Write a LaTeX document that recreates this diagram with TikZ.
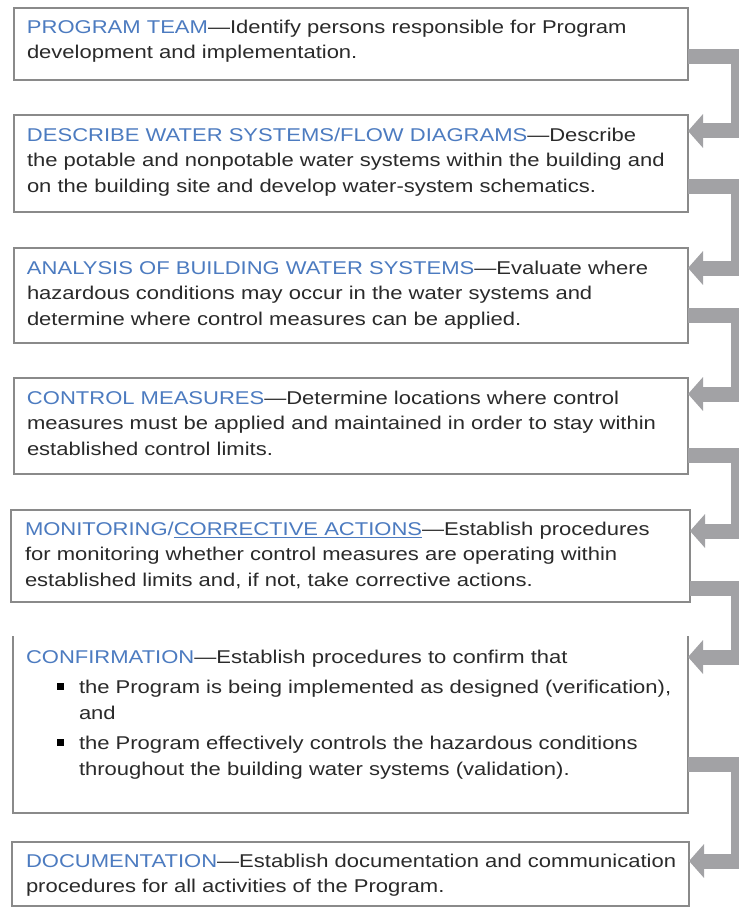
\documentclass[tikz,border=0pt]{standalone}
\usepackage{fontspec}
\setmainfont{Liberation Sans}[FakeStretch=1.19]
\usetikzlibrary{arrows.meta}
\definecolor{headblue}{HTML}{4C7BC0}
\definecolor{bodytext}{HTML}{2A2A2A}
\definecolor{boxline}{HTML}{8A8A8A}
\definecolor{connfill}{HTML}{A2A2A5}
\newcommand\hd[1]{\textcolor{headblue}{#1}}
\newcommand\bsq{\makebox[22pt][l]{\raisebox{4pt}{\textcolor{black}{\rule{6.5pt}{6.5pt}}}}}
\begin{document}
\begin{tikzpicture}[x=1pt,y=-1pt,
  box/.style={draw=boxline,line width=1.4pt,inner sep=0pt,outer sep=0pt,anchor=north west,fill=white},
  openbox/.style={inner sep=0pt,outer sep=0pt,anchor=north west},
  txt/.style={anchor=north west,inner sep=0pt,outer sep=0pt,align=left,text=bodytext,
    font=\fontsize{18.5}{25.5}\selectfont},
  conn/.style={draw=connfill,line width=15pt,line join=miter,line cap=butt,
    -{Triangle[length=15pt,width=33pt]}}
]
\useasboundingbox (0,0) rectangle (738,909);
% boxes
\node[box,minimum width=674pt,minimum height=72pt] (b1) at (14,8) {};
\node[box,minimum width=674pt,minimum height=97pt] (b2) at (14,115) {};
\node[box,minimum width=674pt,minimum height=95pt] (b3) at (14,248) {};
\node[box,minimum width=674pt,minimum height=96pt] (b4) at (14,378) {};
\node[box,minimum width=679pt,minimum height=92pt] (b5) at (11,510) {};
\node[openbox,minimum width=675pt,minimum height=177pt] (b6) at (13,636) {};
\draw[draw=boxline,line width=1.4pt] (b6.north west) -- (b6.south west) -- (b6.south east) -- (b6.north east);
\node[box,minimum width=677pt,minimum height=64pt] (b7) at (12,842) {};
% connectors
\draw[conn] (b1.east |- 0,57) -- (738,57) |- (b2.east |- 0,131);
\draw[conn] (b2.east |- 0,187) -- (738,187) |- (b3.east |- 0,268);
\draw[conn] (b3.east |- 0,315) -- (738,315) |- (b4.east |- 0,394);
\draw[conn] (b4.east |- 0,455) -- (738,455) |- (b5.east |- 0,531);
\draw[conn] (b5.east |- 0,588) -- (738,588) |- (b6.east |- 0,657);
\draw[conn] (b6.east |- 0,764) -- (738,764) |- (b7.east |- 0,861);
% texts
\node[txt] (t1) at (27,15.6) {\strut\hd{PROGRAM TEAM}—Identify persons responsible for Program\\development and implementation.};
\node[txt] (t2) at (27,123.6) {\strut\hd{DESCRIBE WATER SYSTEMS/FLOW DIAGRAMS}—Describe\\the potable and nonpotable water systems within the building and\\on the building site and develop water-system schematics.};
\node[txt] (t3) at (27,256.6) {\strut\hd{ANALYSIS OF BUILDING WATER SYSTEMS}—Evaluate where\\hazardous conditions may occur in the water systems and\\determine where control measures can be applied.};
\node[txt] (t4) at (27,386.6) {\strut\hd{CONTROL MEASURES}—Determine locations where control\\measures must be applied and maintained in order to stay within\\established control limits.};
\node[txt] (t5) at (25,517.6) {\strut\hd{MONITORING/\underline{CORRECTIVE ACTIONS}}—Establish procedures\\for monitoring whether control measures are operating within\\established limits and, if not, take corrective actions.};
\node[txt] (t6) at (26,645.6) {\strut\hd{CONFIRMATION}—Establish procedures to confirm that\\[5pt]
\hspace*{31pt}\bsq the Program is being implemented as designed (verification),\\
\hspace*{53pt}and\\[5pt]
\hspace*{31pt}\bsq the Program effectively controls the hazardous conditions\\
\hspace*{53pt}throughout the building water systems (validation).};
\node[txt] (t7) at (26,849.6) {\strut\hd{DOCUMENTATION}—Establish documentation and communication\\procedures for all activities of the Program.};
\end{tikzpicture}
\end{document}
